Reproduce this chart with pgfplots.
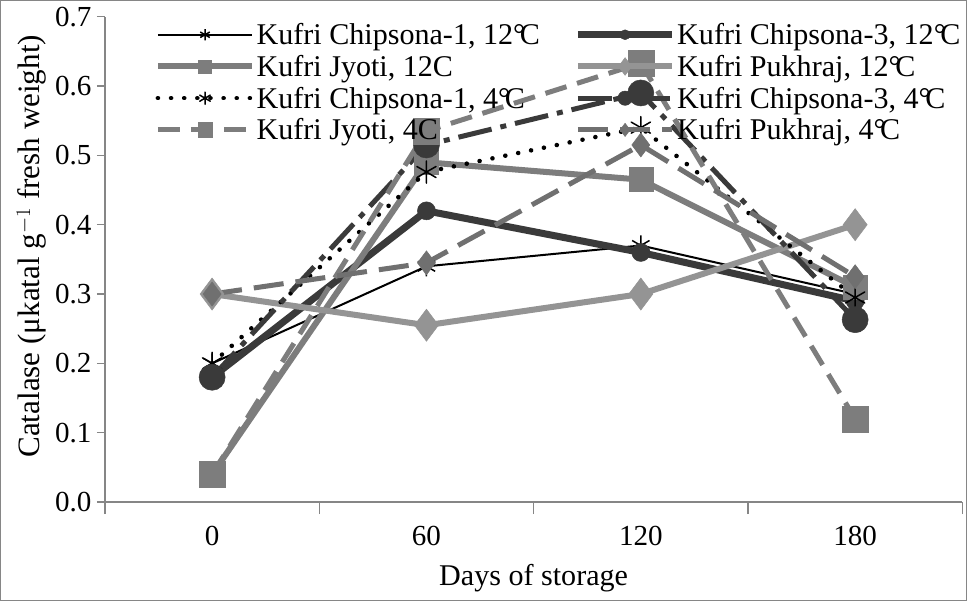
\documentclass[border=0pt]{standalone}
\usepackage{fontspec}
\setmainfont{Liberation Serif}
\usepackage{pgfplots}
\pgfplotsset{compat=1.18}
\definecolor{axisgray}{RGB}{134,134,134}
\definecolor{cthree}{RGB}{58,58,58}
\definecolor{jy}{RGB}{125,125,125}
\definecolor{pk}{RGB}{148,148,148}
\definecolor{pkf}{RGB}{112,112,112}
\newcommand{\dC}{°\kern-0.18em C}
\begin{document}
\begin{tikzpicture}
\begin{axis}[
  scale only axis, width=855pt, height=484pt,
  xmin=-0.5, xmax=3.5, ymin=0, ymax=0.7,
  clip=false,
  axis x line=bottom, axis y line=left,
  axis line style={draw=axisgray, line width=1.3pt, -},
  xtick={0,1,2,3}, xticklabels={0,60,120,180},
  minor xtick={-0.5,0.5,1.5,2.5,3.5},
  ytick={0,0.1,0.2,0.3,0.4,0.5,0.6,0.7},
  tick align=outside,
  major tick length=8pt, minor tick length=12pt,
  every major x tick/.append style={draw=none},
  every tick/.style={draw=axisgray, line width=1.3pt},
  every minor tick/.style={draw=axisgray, line width=1.3pt},
  tick label style={font=\fontsize{29}{31}\selectfont},
  /pgf/number format/.cd, fixed, fixed zerofill, precision=1, assume math mode=true,
  /pgfplots/.cd,
  xticklabel style={yshift=-13pt},
  yticklabel style={xshift=-2pt},
  ylabel={Catalase (μkatal g$^{-1}$ fresh weight)},
  xlabel={Days of storage},
  every axis y label/.style={at={(axis description cs:-0.086,0.527)}, rotate=90, anchor=center, font=\fontsize{31}{33}\selectfont},
  every axis x label/.style={at={(axis description cs:0.5,-0.157)}, anchor=center, font=\fontsize{30}{32}\selectfont},
  legend columns=2,
  legend cell align=left,
  legend style={at={(axis description cs:0.058,1.0)}, yshift=-5pt, anchor=north west, draw=none, fill=none,
    font=\fontsize{30}{31}\selectfont, inner sep=0pt, row sep=6pt,
    nodes={inner sep=1.5pt},
    /tikz/every even column/.append style={column sep=33pt}},
  legend image code/.code={\draw[mark repeat=2,mark phase=2,/tikz/every mark/.append style={scale=0.55}] plot coordinates {(0pt,0pt) (47pt,0pt) (94pt,0pt)};},
]
% Kufri Chipsona-1, 12C
\addplot[black, line width=2pt, mark=asterisk, mark size=10pt, mark options={solid, line width=1.5pt}]
  coordinates {(0,0.20) (1,0.34) (2,0.37) (3,0.30)};
\addlegendentry{Kufri Chipsona-1, 12\dC}
% Kufri Chipsona-3, 12C
\addplot[cthree, line width=7pt, mark=*, mark size=9pt, mark options={solid, fill=cthree, line width=0.5pt}]
  coordinates {(0,0.18) (1,0.42) (2,0.36) (3,0.29)};
\addlegendentry{Kufri Chipsona-3, 12\dC}
% Kufri Jyoti, 12C
\addplot[jy, line width=6pt, mark=square*, mark size=12pt, mark options={solid, fill=jy, line width=0.5pt}]
  coordinates {(0,0.04) (1,0.49) (2,0.465) (3,0.31)};
\addlegendentry{Kufri Jyoti, 12C}
% Kufri Pukhraj, 12C
\addplot[pk, line width=6pt, mark=diamond*, mark size=16pt, mark options={solid, fill=pk, line width=0.5pt}]
  coordinates {(0,0.30) (1,0.255) (2,0.30) (3,0.40)};
\addlegendentry{Kufri Pukhraj, 12\dC}
% Kufri Chipsona-1, 4C
\addplot[black, line width=4.5pt, line cap=round, dash pattern=on 0.1pt off 13pt, mark=asterisk, mark size=11pt, mark options={solid, line width=1.5pt}]
  coordinates {(0,0.20) (1,0.476) (2,0.54) (3,0.295)};
\addlegendentry{Kufri Chipsona-1, 4\dC}
% Kufri Chipsona-3, 4C
\addplot[cthree, line width=5pt, dash pattern=on 34pt off 9pt on 6pt off 9pt, mark=*, mark size=13pt, mark options={solid, fill=cthree, line width=0.5pt}]
  coordinates {(0,0.18) (1,0.515) (2,0.59) (3,0.263)};
\addlegendentry{Kufri Chipsona-3, 4\dC}
% Kufri Jyoti, 4C
\addplot[jy, line width=5pt, dash pattern=on 22pt off 11pt, mark=square*, mark size=13pt, mark options={solid, fill=jy, line width=0.5pt}]
  coordinates {(0,0.04) (1,0.535) (2,0.633) (3,0.12)};
\addlegendentry{Kufri Jyoti, 4C}
% Kufri Pukhraj, 4C
\addplot[pkf, line width=5pt, dash pattern=on 30pt off 12pt, mark=diamond*, mark size=12pt, mark options={solid, fill=pkf, line width=0.5pt}]
  coordinates {(0,0.30) (1,0.345) (2,0.515) (3,0.325)};
\addlegendentry{Kufri Pukhraj, 4\dC}
\end{axis}
\draw[axisgray, line width=1.3pt] (-104pt,-98pt) rectangle (859pt,500pt);
\end{tikzpicture}
\end{document}
